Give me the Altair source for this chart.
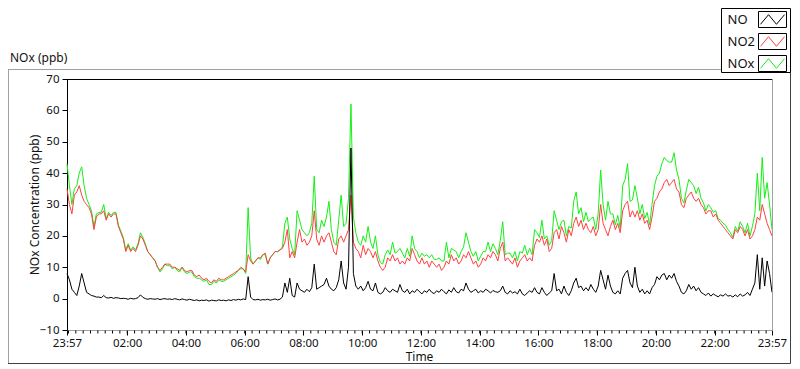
import json
import pandas as pd
import altair as alt

# ---------------- data ----------------
START = "23:57"          # first sample time
STEP_MIN = 5             # sampling step, minutes
SERIES = ["NO", "NO2", "NOx"]
COLORS = ["#000000", "#ff4040", "#14f014"]
TICK_LABELS = ["23:57", "02:00", "04:00", "06:00", "08:00", "10:00", "12:00",
               "14:00", "16:00", "18:00", "20:00", "22:00", "23:57"]
Y_TICKS = [-10, 0, 10, 20, 30, 40, 50, 60, 70]
X_TITLE = "Time"
Y_TITLE = "NOx Concentration (ppb)"
CHART_TITLE = "NOx (ppb)"

NO = [
    8, 6, 3, 2, 1, 4, 8, 5, 2, 1.5, 1, 0.8,
    0.5, 0.5, 0.3, 1, 0.3, 0.2, 0.4, 0.1, 0.3, 0.2, 0, 0.1,
    0, -0.2, 0.1, -0.1, 0, 0.3, 1.2, 0.4, 0, -0.2, 0, -0.1,
    -0.2, 0, -0.3, -0.1, 0, -0.2, -0.1, -0.3, 0, -0.2, -0.4, -0.1,
    -0.3, -0.5, -0.2, -0.4, -0.6, -0.4, -0.7, -0.5, -0.6, -0.4, -0.8, -0.5,
    -0.6, -0.7, -0.4, -0.6, -0.5, -0.7, -0.4, -0.6, -0.3, -0.5, -0.2, -0.4,
    -0.1, -0.3, 7, 0.5, -0.3, -0.4, -0.2, -0.5, -0.3, -0.4, -0.2, -0.5,
    -0.3, -0.1, -0.4, -0.2, 0.5, 5, 2, 6.5, 1, 0.5, 5, 3,
    2.5, 2, 3, 2.2, 3.5, 11, 3, 3.5, 4, 4.5, 6.5, 4,
    3, 2.5, 3.5, 6, 12, 5, 3, 10, 48, 8, 4, 3,
    4, 2.5, 3.5, 5.5, 3, 2.5, 5, 2, 1.5, 2, 3.5, 2.5,
    2, 3, 2.5, 2, 4.5, 2.5, 2, 3, 1.5, 2.5, 2, 3,
    2.2, 1.5, 2.5, 2, 3, 2, 1.6, 2.5, 2, 3, 2.2, 1.5,
    2.8, 2, 3.5, 2.2, 1.8, 3, 2.5, 5, 3, 2, 2.5, 3,
    1.8, 2.5, 2, 3, 2.5, 1.8, 2.6, 2.2, 2, 2.5, 4, 2,
    1.5, 2.5, 1.8, 2.2, 1.5, 3, 1.5, 1, 1.8, 2.5, 2, 3.5,
    2, 1.5, 3.5, 2, 1, 1.8, 2.5, 8, 2.5, 3, 1.5, 4,
    2, 1, 2.5, 5, 6.5, 3.5, 4, 2.5, 3.5, 2.5, 4.5, 3,
    2, 4, 9, 6, 3, 7.5, 4, 2, 1.5, 2.5, 1.5, 6.5,
    8, 9, 5, 3.5, 10, 4, 2, 3, 1.5, 2.5, 1.5, 3.5,
    4.5, 7, 6, 7.5, 8, 6, 7.5, 6.5, 8, 5.5, 4, 2,
    1.5, 2.5, 4.5, 3, 4, 2.5, 3.5, 2, 1.5, 1, 1.8, 0.8,
    1.5, 1, 0.6, 1.2, 0.8, 1.5, 0.8, 1, 0.5, 1.2, 0.6, 1.5,
    0.8, 1.2, 2, 1, 3, 5, 14, 3, 13, 4, 12, 8,
    2,
]

NO2 = [
    35, 30, 27, 33, 34, 36, 33, 31, 30, 29, 27, 22,
    26, 27, 27, 28, 25, 27, 26, 27, 27, 23, 21, 19,
    15, 17, 15, 16, 15, 17, 20, 19, 17, 15, 14, 13,
    12, 10, 9, 10, 11, 11, 11, 10, 10, 9.5, 9, 10,
    9, 8.5, 9, 9, 7.5, 7, 7.5, 6.5, 6, 6.5, 5.5, 5,
    6, 5.5, 6.5, 6, 6, 6.5, 7, 7.5, 8, 8.5, 9, 10,
    9.5, 8.5, 14, 12, 11, 12, 13, 13, 14, 14.5, 11, 13,
    14, 15, 15, 15.5, 16, 18, 22, 13, 15, 13, 18, 22,
    18, 19, 17, 18, 20, 28, 19, 17, 20, 18, 20, 21,
    18, 15, 14, 19, 20, 18, 20, 22, 33, 18, 16, 15,
    13, 17, 14, 16, 15, 13, 15, 12, 10, 9, 10, 13,
    12, 14, 12, 13, 11, 12, 11, 13, 12, 16, 14, 12,
    11, 13, 11, 12, 10, 12, 11, 10, 11, 9, 10, 12,
    11, 14, 12, 13, 11, 12, 14, 13, 15, 13, 11, 12,
    10, 11, 13, 12, 14, 13, 15, 14, 12, 16, 18, 12,
    13, 12, 11, 13, 10, 12, 13, 14, 12, 13, 12, 17,
    19, 18, 20, 17, 19, 15, 16, 21, 22, 19, 23, 21,
    18, 22, 20, 24, 26, 23, 25, 22, 24, 22, 21, 23,
    20, 22, 30, 24, 22, 20, 23, 25, 22, 24, 21, 28,
    30, 31, 26, 28, 26, 28, 25, 27, 24, 25, 22, 26,
    31, 32, 34, 35, 37, 38, 36, 37, 38, 35, 34, 30,
    29, 32, 33, 34, 32, 31, 32, 30, 29, 27, 28, 28,
    26, 27, 25, 24, 23, 22, 21, 20, 19, 22, 21, 23,
    22, 20, 22, 19, 20, 22, 26, 25, 30, 27, 24, 22,
    20,
]

NOX = [
    43, 36, 30, 35, 36, 40, 42, 36, 32, 30, 28, 23,
    27, 27.5, 27.5, 30, 25.5, 27.5, 26.5, 27.5, 27.5, 23.5, 21.5, 19.5,
    15.5, 17.5, 15.5, 16.5, 15.5, 17.5, 21, 19.5, 17.5, 15, 14, 13,
    12, 10, 8.5, 9.5, 11, 10.5, 10.5, 9.5, 10, 9, 8.5, 10,
    8.5, 8, 8.5, 8.5, 7, 6.5, 6.5, 6, 5.5, 6, 4.5, 4.5,
    5.5, 5, 6, 5.5, 5.5, 6, 6.5, 7, 7.5, 8, 9, 9.5,
    9.5, 8, 29, 13, 11, 12, 13, 12.5, 14, 14, 11, 13,
    14, 15, 15, 15.5, 16.5, 24, 26, 19, 16, 14, 28, 25,
    22, 21, 20, 21, 24, 39, 22, 21, 25, 23, 26, 31,
    22, 18, 17, 25, 33, 23, 24, 32, 62, 26, 21, 18,
    17, 20, 18, 23, 18, 16, 20, 14, 11.5, 11, 14, 15.5,
    14, 18, 14.5, 15, 16, 14.5, 13, 16, 13.5, 20, 16, 15,
    13, 14.5, 13.5, 14, 13, 14, 12.5, 12.5, 13, 12, 12, 18,
    13, 16, 15.5, 15, 13, 15, 16.5, 21, 18, 15, 13.5, 15,
    12, 13.5, 15, 15, 18, 15, 17.5, 16, 14, 18.5, 24.5, 14,
    14.5, 14.5, 13, 15, 12, 15, 14.5, 17, 14, 16, 14, 22,
    21, 19.5, 25, 19, 20, 17, 18.5, 28, 25, 22, 24.5, 25,
    20, 23, 22.5, 31, 34, 27, 29, 24.5, 27.5, 24.5, 25.5, 26,
    22, 27, 41, 30, 25, 31, 27, 27, 23.5, 26.5, 22.5, 36,
    38, 43, 31, 31.5, 36, 32, 27, 30, 25.5, 27.5, 23.5, 30,
    36, 39, 40, 43, 45, 44, 43.5, 43.5, 46.5, 41, 38, 32,
    30.5, 34.5, 38, 37, 36, 33.5, 35.5, 32, 30.5, 28, 30, 29,
    27.5, 28, 25.5, 25, 24, 23.5, 22, 21, 19.5, 23, 21.5, 24.5,
    23, 21, 24, 20, 23, 27, 40, 28, 45, 32, 37, 30,
    22,
]

# ---------------- derived tables ----------------
minutes = [i * STEP_MIN for i in range(len(NO))]
df = pd.DataFrame({"t": minutes, "NO": NO, "NO2": NO2, "NOx": NOX})

sh, sm = map(int, START.split(":"))
start_min = sh * 60 + sm
span = 1440


def offset(lbl):
    h, m = map(int, lbl.split(":"))
    return (h * 60 + m - start_min) % 1440


tick_pos = [offset(l) for l in TICK_LABELS]
tick_pos[-1] = span
first_minor = (60 - sm) % 15 or 15
minor_pos = list(range(first_minor, span, 15))
minor_df = pd.DataFrame({"m": minor_pos})

# ---------------- styling ----------------
W, H = 705, 251
PAD_L, PAD_T = 59, 71
SVG_W, SVG_H = 784, 357
PAD_R = SVG_W - PAD_L - W
PAD_B = SVG_H - PAD_T - H
FONT = "Noto Sans"
TXT = "#111111"

xs = alt.Scale(domain=[0, span], nice=False, zero=False)
ys = alt.Scale(domain=[Y_TICKS[0], Y_TICKS[-1]], nice=False, zero=False)

label_expr = f"{json.dumps(TICK_LABELS)}[indexof({json.dumps(tick_pos)}, datum.value)]"

x_axis = alt.Axis(values=tick_pos, labelExpr=label_expr, title=None, grid=False,
                  tickSize=5, tickColor="black", domainColor="#a0a0a0",
                  labelFont=FONT, labelFontSize=11.5, labelColor=TXT, labelPadding=2,
                  labelFlush=False, labelOverlap=False)
y_axis = alt.Axis(values=Y_TICKS, title=Y_TITLE, grid=False,
                  tickSize=5, tickColor="black", domainColor="black",
                  labelFont=FONT, labelFontSize=11.5, labelColor=TXT, labelPadding=3,
                  titleFont=FONT, titleFontSize=12, titleFontWeight="normal", titleColor=TXT,
                  titleX=-33, titleY=H / 2, titleBaseline="middle")


def series_line(col, color):
    return alt.Chart(df).mark_line(color=color, strokeWidth=1, interpolate="linear").encode(
        x=alt.X("t:Q", scale=xs, axis=x_axis),
        y=alt.Y(f"{col}:Q", scale=ys, axis=y_axis),
    )


color_of = dict(zip(SERIES, COLORS))
lines = [series_line(s, color_of[s]) for s in ["NOx", "NO2", "NO"]]

minor_ticks = alt.Chart(minor_df).mark_rule(color="black", strokeWidth=1).encode(
    x=alt.X("m:Q", scale=xs, axis=x_axis),
    y=alt.value(H + 0.5), y2=alt.value(H + 3.5),
)

one = pd.DataFrame({"k": [0]})


def rule(x1, x2, y1, y2, color):
    return alt.Chart(one).mark_rule(color=color, strokeWidth=1).encode(
        x=alt.value(x1), x2=alt.value(x2), y=alt.value(y1), y2=alt.value(y2))


RIGHT = SVG_W - PAD_L - 1.5        # right-most drawable line (relative to plot origin)
BOTTOM = SVG_H - PAD_T - 1.5       # bottom-most drawable line
LEG_L = RIGHT - 69

deco = [
    rule(0, W, 0.5, 0.5, "black"),                      # plot top border
    rule(W + 0.5, W + 0.5, 0, H, "#a0a0a0"),             # plot right border
    rule(-PAD_L, LEG_L, -9.5, -9.5, "#a0a0a0"),          # outer frame top
    rule(-PAD_L + 0.5, -PAD_L + 0.5, -9.5, BOTTOM, "#a0a0a0"),  # outer frame left
    rule(-PAD_L, RIGHT, BOTTOM, BOTTOM, "#404040"),      # outer frame bottom
    rule(RIGHT, RIGHT, -7, BOTTOM, "#404040"),           # outer frame right
]

title_txt = alt.Chart(one).mark_text(text=CHART_TITLE, align="left", baseline="middle",
                                     font=FONT, fontSize=12, color=TXT).encode(
    x=alt.value(-57), y=alt.value(-21))

x_title_txt = alt.Chart(one).mark_text(text=X_TITLE, align="center", baseline="middle",
                                       font=FONT, fontSize=12, color=TXT).encode(
    x=alt.value(W / 2), y=alt.value(H + 27))

legend_layers = [
    alt.Chart(one).mark_rect(fill="white", stroke="black", strokeWidth=1).encode(
        x=alt.value(LEG_L), x2=alt.value(RIGHT), y=alt.value(-PAD_T + 0.5), y2=alt.value(-6.5))
]
row_y = [-59.5, -37.5, -15.5]
for name, color, ry in zip(SERIES, COLORS, row_y):
    legend_layers.append(
        alt.Chart(one).mark_text(text=name, align="left", baseline="middle", font=FONT,
                                 fontSize=13, color=TXT).encode(
            x=alt.value(LEG_L + 6), y=alt.value(ry)))
    legend_layers.append(
        alt.Chart(one).mark_rect(fill="white", stroke="black", strokeWidth=1).encode(
            x=alt.value(RIGHT - 32), x2=alt.value(RIGHT - 4), y=alt.value(ry - 8), y2=alt.value(ry + 8)))
    legend_layers.append(
        alt.Chart(one).mark_point(shape="M-1,0.4L-0.33,-0.4L0.33,0.4L1,-0.4", size=576,
                                  filled=False, stroke=color, strokeWidth=1, opacity=1).encode(
            x=alt.value(RIGHT - 18), y=alt.value(ry)))

chart = alt.layer(*lines, minor_ticks, *deco, title_txt, x_title_txt, *legend_layers).properties(
    width=W, height=H,
    autosize=alt.AutoSizeParams(type="none"),
    padding={"left": PAD_L, "top": PAD_T, "right": PAD_R, "bottom": PAD_B},
    background="white",
).configure_view(stroke=None)

chart.save("out.html", embed_options={"renderer": "svg", "actions": False})
